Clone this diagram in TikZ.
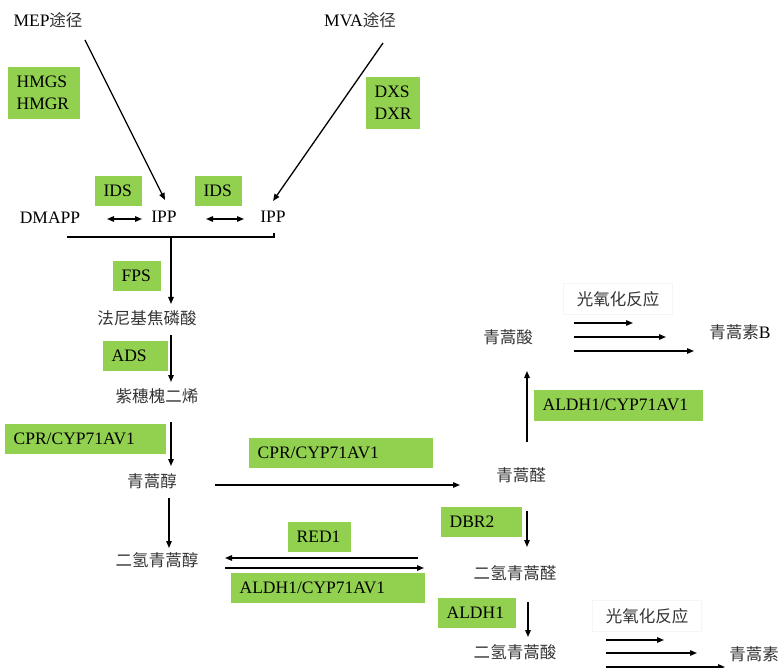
\documentclass[tikz,border=0pt]{standalone}
\usepackage{fontspec}
\setmainfont{Liberation Serif}
\newfontfamily\cjk[Scale=0.943]{Noto Sans CJK SC}
\usetikzlibrary{arrows.meta,calc}
\definecolor{xanhla}{HTML}{92D050}
\newcommand{\zh}[1]{{\cjk\color{black!80}#1}}
\tikzset{
 hop/.style={fill=xanhla, inner xsep=9pt, inner ysep=0pt, anchor=north west, align=left, minimum height=30pt},
 chu/.style={inner sep=1pt},
 khung/.style={draw=black!4, line width=0.5pt, minimum width=109pt, minimum height=31pt, inner sep=0pt}
}
\begin{document}
\begin{tikzpicture}[x=1pt, y=-1pt, >={Triangle[length=7pt,width=5.5pt]}, line width=1.3pt, font=\fontsize{17.5}{22}\selectfont]
\useasboundingbox (0,0) rectangle (779,668);
% Các chất
\node[chu] (mep) at (48,20) {MEP\zh{途径}};
\node[chu] (mva) at (360,20) {MVA\zh{途径}};
\node[chu] (dmapp) at (50,218) {DMAPP};
\node[chu] (ipp1) at (164,217) {IPP};
\node[chu] (ipp2) at (273,217) {IPP};
\node[chu] (fpp) at (147,318) {\zh{法尼基焦磷酸}};
\node[chu] (amo) at (157,396) {\zh{紫穗槐二烯}};
\node[chu] (aol) at (152,481) {\zh{青蒿醇}};
\node[chu] (dhaol) at (157,560) {\zh{二氢青蒿醇}};
\node[chu] (aal) at (521,475) {\zh{青蒿醛}};
\node[chu] (aa) at (508,337) {\zh{青蒿酸}};
\node[chu] (artb) at (740,332) {\zh{青蒿素}B};
\node[chu] (dhaal) at (515,573) {\zh{二氢青蒿醛}};
\node[chu] (dhaa) at (515,652) {\zh{二氢青蒿酸}};
\node[chu] (art) at (754,654) {\zh{青蒿素}};
\node[khung] (quang1) at (618,299) {\zh{光氧化反应}};
\node[khung] (quang2) at (647,616) {\zh{光氧化反应}};
% Các enzym (ô xanh)
\node[hop, text width=54pt, minimum height=52pt] (hmg) at (7,66) {HMGS\\HMGR};
\node[hop, text width=36pt, minimum height=52pt] (dx) at (365,76) {DXS\\DXR};
\node[hop, text width=29pt] (ids1) at (94,175) {IDS};
\node[hop, text width=29pt] (ids2) at (194,175) {IDS};
\node[hop, text width=30pt] (fps) at (112,260) {FPS};
\node[hop, text width=47pt] (ads) at (102,340) {ADS};
\node[hop, text width=143pt] (cpr1) at (4,423) {CPR/CYP71AV1};
\node[hop, text width=166pt] (cpr2) at (248,437) {CPR/CYP71AV1};
\node[hop, text width=151pt, minimum height=31pt] (aldhc1) at (533,389) {ALDH1/CYP71AV1};
\node[hop, text width=63pt] (dbr) at (440,506) {DBR2};
\node[hop, text width=45pt] (red) at (287,521) {RED1};
\node[hop, text width=176pt] (aldhc2) at (230,572) {ALDH1/CYP71AV1};
\node[hop, text width=60pt] (aldh) at (437,597) {ALDH1};
% Mũi tên
\draw[->] ($(mep)+(37,20)$) -- ($(ipp1)+(1,-17)$);
\draw[->] ($(mva)+(23,23)$) -- ($(ipp2)+(0,-16)$);
\draw[<->] ($(ipp1)+(-57,2)$) -- ($(ipp1)+(-22,2)$);
\draw[<->] ($(ipp1)+(42,2)$) -- ($(ipp2)+(-29,2)$);
\draw ($(dmapp)+(17,19)$) -- ($(ipp2)+(1,20)$) -- ++(0,-4);
\draw[->] ($(ipp1)+(7,20)$) -- ($(fpp)+(24,-14)$);
\draw[->] ($(fpp)+(24,17)$) -- ($(amo)+(14,-14)$);
\draw[->] ($(amo)+(14,26)$) -- ($(aol)+(19,-15)$);
\draw[->] ($(aol)+(17,17)$) -- ($(dhaol)+(12,-12)$);
\draw[->] ($(aol)+(63,4)$) -- ($(aal)+(-61,10)$);
\draw[->] ($(aal)+(6,-33)$) -- ($(aa)+(19,34)$);
\draw[->] ($(aal)+(6,36)$) -- ($(dhaal)+(12,-26)$);
\draw[->] ($(dhaal)+(13,29)$) -- ($(dhaa)+(13,-15)$);
\draw[->] ($(dhaal)+(-97,-15)$) -- ($(dhaol)+(68,-2)$);
\draw[->] ($(dhaol)+(68,8)$) -- ($(dhaal)+(-91,-5)$);
% Phản ứng quang oxy hóa
\foreach \dy/\dx in {-14/-107,0/-74,14/-46}
\draw[->] ($(aa)+(66,\dy)$) -- ($(artb)+(\dx,\dy+5)$);
\foreach \dy/\dx in {-12/-90,1/-57,15/-29}
\draw[->] ($(dhaa)+(91,\dy)$) -- ($(art)+(\dx,\dy-2)$);
\end{tikzpicture}
\end{document}
